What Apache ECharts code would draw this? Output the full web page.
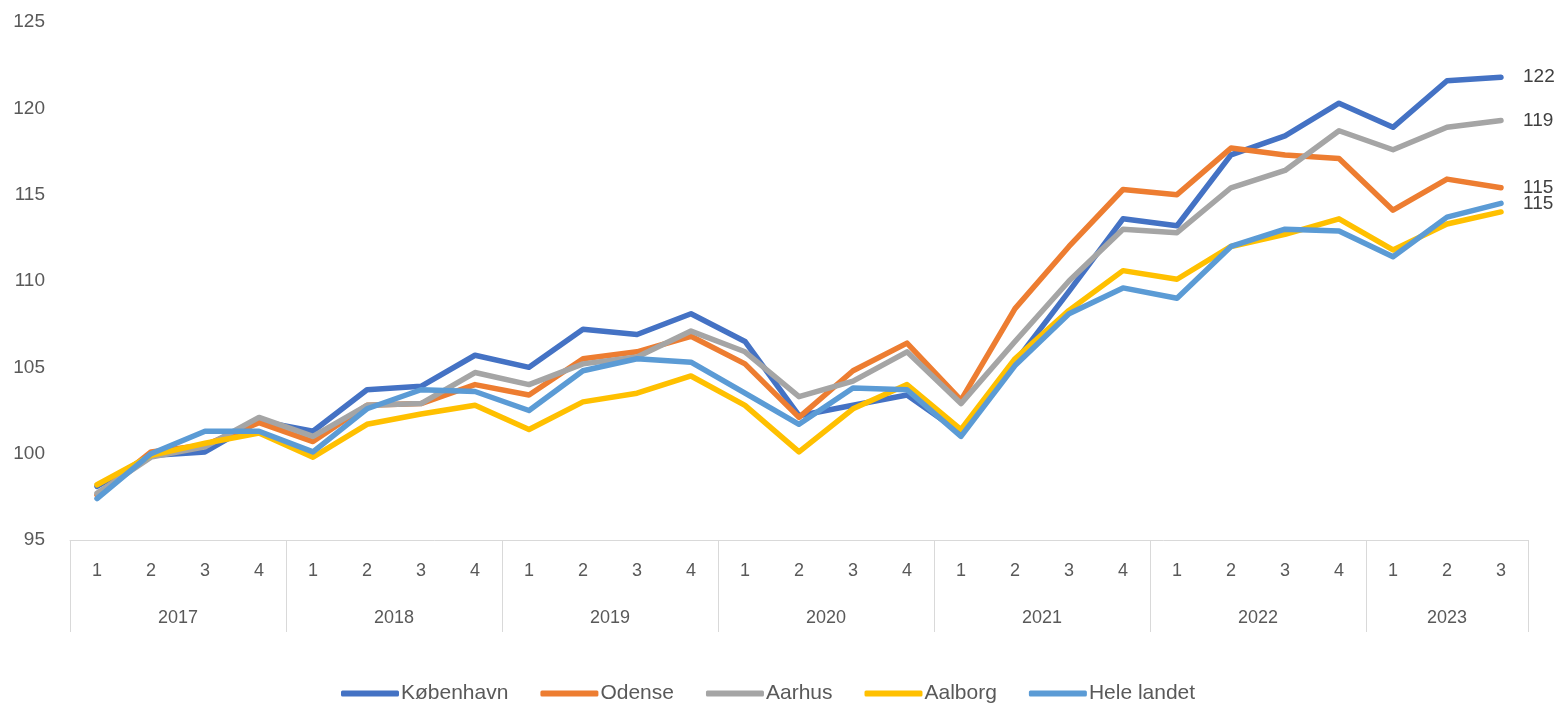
<!DOCTYPE html>
<html>
<head>
<meta charset="utf-8">
<script src="https://cdn.jsdelivr.net/npm/echarts@6/dist/echarts.min.js"></script>
<style>html,body{margin:0;padding:0;background:#fff}#c{width:1562px;height:704px}</style>
</head>
<body>
<div id="c"></div>
<script>
const years = ['2017','2018','2019','2020','2021','2022','2023'];
const quartersPerYear = [4,4,4,4,4,4,3];
const yearCenters = [2, 6, 10, 14, 18, 22, 25.5];

const kobenhavn = [98.1,99.9,100.1,101.9, 101.3,103.7,103.9,105.7, 105.0,107.2,106.9,108.1, 106.5,102.2,102.8,103.4, 101.2,105.3,109.4,113.6, 113.2,117.3,118.4,120.3, 118.9,121.6,121.8];
const odense    = [97.6,100.1,100.5,101.8, 100.7,102.8,102.9,104.0, 103.4,105.5,105.9,106.8, 105.2,102.1,104.8,106.4, 103.1,108.4,112.0,115.3, 115.0,117.7,117.3,117.1, 114.1,115.9,115.4];
const aarhus    = [97.7,99.8,100.4,102.1, 101.0,102.8,102.9,104.7, 104.0,105.2,105.6,107.1, 105.9,103.3,104.2,105.9, 102.9,106.5,110.0,113.0, 112.8,115.4,116.4,118.7, 117.6,118.9,119.3];
const aalborg   = [98.2,99.9,100.6,101.2, 99.8,101.7,102.3,102.8, 101.4,103.0,103.5,104.5, 102.8,100.1,102.6,104.0, 101.4,105.5,108.3,110.6, 110.1,112.0,112.7,113.6, 111.8,113.3,114.0];
const heleLandet= [97.4,100.0,101.3,101.3, 100.1,102.6,103.7,103.6, 102.5,104.8,105.5,105.3, 103.5,101.7,103.8,103.7, 101.0,105.1,108.1,109.6, 109.0,112.0,113.0,112.9, 111.4,113.7,114.5];

const categories = [];
years.forEach((y, i) => { for (let q = 1; q <= quartersPerYear[i]; q++) categories.push(y + '-' + q); });

const font = '"Liberation Sans Narrow", "Liberation Sans", "Open Sans", sans-serif';
const textColor = '#595959';

function mk(name, data, color, showEnd) {
  return {
    name, type: 'line', data, xAxisIndex: 0, yAxisIndex: 0,
    showSymbol: false, symbol: 'none',
    lineStyle: { width: 5.5, color, cap: 'round', join: 'round' },
    itemStyle: { color },
    emphasis: { disabled: true },
    endLabel: showEnd ? {
      show: true, distance: 22, fontSize: 19, color: '#404040', fontFamily: font,
      formatter: p => String(Math.round(p.value))
    } : { show: false }
  };
}

const chart = echarts.init(document.getElementById('c'), null, { renderer: 'canvas' });
chart.setOption({
  animation: false,
  backgroundColor: '#fff',
  grid: { left: 70, right: 34, top: 22, bottom: 164, containLabel: false },
  legend: {
    bottom: -5, left: 336, itemWidth: 58, itemHeight: 6, itemGap: 32, icon: 'roundRect',
    textStyle: { fontSize: 21, color: textColor, fontFamily: font, padding: [0,0,0,-3] },
    data: ['København','Odense','Aarhus','Aalborg','Hele landet']
  },
  xAxis: [
    {
      type: 'category', data: categories, boundaryGap: true, position: 'bottom',
      axisLine: { show: true, lineStyle: { color: '#d9d9d9', width: 1 } },
      axisTick: { show: true, length: 92, interval: i => i % 4 === 0, lineStyle: { color: '#d9d9d9' } },
      axisLabel: { interval: 0, margin: 22, fontSize: 18, color: textColor, fontFamily: font,
        formatter: v => v.split('-')[1] },
      splitLine: { show: false }
    },
    {
      type: 'value', min: 0, max: 27, interval: 0.5, position: 'bottom', gridIndex: 0,
      axisLine: { show: false }, axisTick: { show: false }, splitLine: { show: false },
      axisLabel: { margin: 69, fontSize: 18, color: textColor, fontFamily: font, showMinLabel: true, showMaxLabel: true,
        formatter: v => { const k = yearCenters.indexOf(v); return k >= 0 ? years[k] : ''; } }
    }
  ],
  yAxis: {
    type: 'value', min: 95, max: 125, interval: 5,
    axisLine: { show: false }, axisTick: { show: false }, splitLine: { show: false },
    axisLabel: { margin: 25, fontSize: 19, color: textColor, fontFamily: font }
  },
  series: [
    mk('København', kobenhavn, '#4472C4', true),
    mk('Odense', odense, '#ED7D31', true),
    mk('Aarhus', aarhus, '#A5A5A5', true),
    mk('Aalborg', aalborg, '#FFC000', false),
    mk('Hele landet', heleLandet, '#5B9BD5', true)
  ]
});
</script>
</body>
</html>
